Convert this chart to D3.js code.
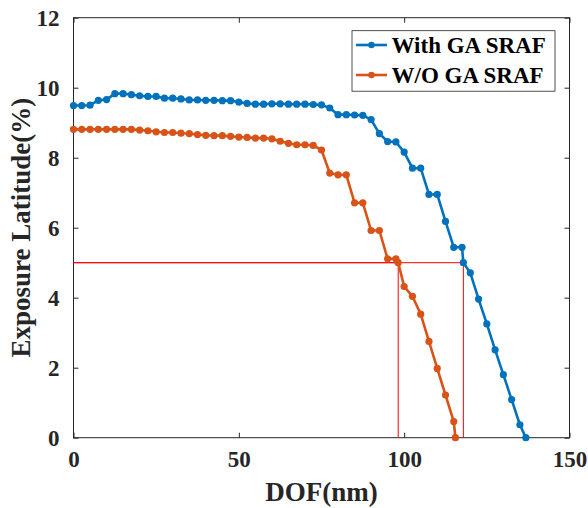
<!DOCTYPE html>
<html>
<head>
<meta charset="utf-8">
<script src="https://cdn.jsdelivr.net/npm/d3@7"></script>
<style>
  body { margin: 0; background: #fff; }
</style>
</head>
<body>
<div id="chart"></div>
<script>
// data
var dof = [0, 2.5, 5, 7.5, 10, 12.5, 15, 17.5, 20, 22.5, 25, 27.5, 30, 32.5, 35, 37.5, 40, 42.5, 45, 47.5,
  50, 52.5, 55, 57.5, 60, 62.5, 65, 67.5, 70, 72.5, 75, 77.5, 80, 82.5, 85, 87.5, 90, 92.5, 95, 97.5,
  100, 102.5, 105, 107.5, 110, 112.5, 115, 117.5, 120, 122.5, 125, 127.5, 130, 132.5, 135]

var elWith = [9.49, 9.49, 9.50, 9.64, 9.66, 9.83, 9.83, 9.80, 9.77, 9.75, 9.75, 9.70, 9.70, 9.68, 9.65,
  9.65, 9.64, 9.64, 9.63, 9.63, 9.59, 9.55, 9.53, 9.53, 9.54, 9.54, 9.53, 9.53, 9.53, 9.52, 9.51, 9.42,
  9.23, 9.23, 9.22, 9.21, 9.09, 8.69, 8.46, 8.45, 8.16, 7.70, 7.70, 6.95, 6.95, 6.18, 5.44, 5.44, 4.71,
  3.96, 3.25, 2.51, 1.80, 1.09, 0.37]

var elWithout = [8.81, 8.81, 8.81, 8.81, 8.81, 8.81, 8.81, 8.81, 8.79, 8.77, 8.74, 8.72, 8.72, 8.70, 8.69,
  8.66, 8.64, 8.63, 8.63, 8.61, 8.59, 8.58, 8.56, 8.56, 8.54, 8.47, 8.41, 8.37, 8.37, 8.35, 8.22, 7.56,
  7.51, 7.51, 6.71, 6.71, 5.92, 5.92, 5.11, 5.11, 4.32, 4.04, 3.53, 2.75, 1.98, 1.22, 0.46]

// crossing with the 5% level and the point where the curve reaches 0
var elLevel = 5
var crossWith = 117.9
var crossWithout = 98.2
var endWith = 136.8
var endWithout = 115.5

var seriesNames = ['With GA SRAF', 'W/O GA SRAF']
var seriesColors = ['#0072BD', '#D95319']

var xTicks = [0, 50, 100, 150]
var yTicks = [0, 2, 4, 6, 8, 10, 12]

var width = 588
var height = 508
var margin = { top: 17.7, right: 18.5, bottom: 70.3, left: 73.5 }
var serif = 'Liberation Serif'

var svg = d3.select('#chart')
  .append('svg')
  .attr('width', width)
  .attr('height', height)

var xScale = d3.scaleLinear()
  .domain([0, 150])
  .range([margin.left, width - margin.right])

var yScale = d3.scaleLinear()
  .domain([0, 12])
  .range([height - margin.bottom, margin.top])

function buildSeries(el, cross, end) {
  var pts = el.map((v, i) => ({ x: dof[i], y: v }))
  pts.push({ x: cross, y: elLevel })
  pts.push({ x: end, y: 0 })
  return pts.sort((a, b) => a.x - b.x)
}

var series = [
  buildSeries(elWith, crossWith, endWith),
  buildSeries(elWithout, crossWithout, endWithout)
]

// axes box with inward ticks on all four sides
var axisColor = '#262626'
var plotW = width - margin.left - margin.right
var plotH = height - margin.top - margin.bottom

function styleTicks(g) {
  g.attr('font-family', serif)
    .attr('font-weight', 'bold')
    .attr('font-size', 23)
  g.select('.domain').remove()
  g.selectAll('.tick line').attr('stroke', axisColor)
  g.selectAll('.tick text').attr('fill', axisColor)
}

svg.append('g')
  .attr('transform', `translate(0,${height - margin.bottom})`)
  .call(d3.axisBottom(xScale).tickValues(xTicks).tickSizeInner(-5).tickSizeOuter(0).tickPadding(13))
  .call(styleTicks)

svg.append('g')
  .attr('transform', `translate(0,${margin.top})`)
  .call(d3.axisTop(xScale).tickValues(xTicks).tickSizeInner(-5).tickSizeOuter(0).tickFormat(''))
  .call(styleTicks)

svg.append('g')
  .attr('transform', `translate(${margin.left},0)`)
  .call(d3.axisLeft(yScale).tickValues(yTicks).tickSizeInner(-5).tickSizeOuter(0).tickPadding(14))
  .call(styleTicks)

svg.append('g')
  .attr('transform', `translate(${width - margin.right},0)`)
  .call(d3.axisRight(yScale).tickValues(yTicks).tickSizeInner(-5).tickSizeOuter(0).tickFormat(''))
  .call(styleTicks)

svg.append('rect')
  .attr('x', margin.left)
  .attr('y', margin.top)
  .attr('width', plotW)
  .attr('height', plotH)
  .attr('fill', 'none')
  .attr('stroke', axisColor)
  .attr('stroke-width', 1)

// red guide lines at 5%
var guide = d3.line()
  .x(d => xScale(d[0]))
  .y(d => yScale(d[1]))

;[crossWith, crossWithout].forEach(c => {
  svg.append('path')
    .attr('d', guide([[0, elLevel], [c, elLevel], [c, 0]]))
    .attr('fill', 'none')
    .attr('stroke', '#ff0000')
    .attr('stroke-width', 1)
})

// curves
var line = d3.line()
  .x(d => xScale(d.x))
  .y(d => yScale(d.y))

series.forEach((pts, i) => {
  var g = svg.append('g').attr('class', 'series')
  g.append('path')
    .attr('d', line(pts))
    .attr('fill', 'none')
    .attr('stroke', seriesColors[i])
    .attr('stroke-width', 2.6)
    .attr('stroke-linejoin', 'round')
  g.selectAll('circle')
    .data(pts)
    .enter()
    .append('circle')
    .attr('cx', d => xScale(d.x))
    .attr('cy', d => yScale(d.y))
    .attr('r', 3.6)
    .attr('fill', seriesColors[i])
})

// axis titles
svg.append('text')
  .attr('x', margin.left + plotW / 2)
  .attr('y', 501)
  .attr('text-anchor', 'middle')
  .attr('font-family', serif)
  .attr('font-weight', 'bold')
  .attr('font-size', 27)
  .attr('fill', axisColor)
  .text('DOF(nm)')

svg.append('text')
  .attr('transform', `translate(30,${margin.top + plotH / 2}) rotate(-90)`)
  .attr('text-anchor', 'middle')
  .attr('font-family', serif)
  .attr('font-weight', 'bold')
  .attr('font-size', 27)
  .attr('fill', axisColor)
  .text('Exposure Latitude(%)')

// legend
var legend = svg.append('g')
legend.append('rect')
  .attr('x', 352)
  .attr('y', 30.7)
  .attr('width', 203)
  .attr('height', 60.5)
  .attr('fill', '#fff')
  .attr('stroke', axisColor)
  .attr('stroke-width', 0.8)

seriesNames.forEach((name, i) => {
  var y = 45 + i * 30
  legend.append('line')
    .attr('x1', 356)
    .attr('x2', 387)
    .attr('y1', y)
    .attr('y2', y)
    .attr('stroke', seriesColors[i])
    .attr('stroke-width', 2.6)
  legend.append('circle')
    .attr('cx', 371.5)
    .attr('cy', y)
    .attr('r', 3.2)
    .attr('fill', seriesColors[i])
  legend.append('text')
    .attr('x', 391.5)
    .attr('y', y)
    .attr('dy', '0.34em')
    .attr('font-family', serif)
    .attr('font-weight', 'bold')
    .attr('font-size', 23)
    .attr('fill', '#000')
    .text(name)
})
</script>
</body>
</html>
